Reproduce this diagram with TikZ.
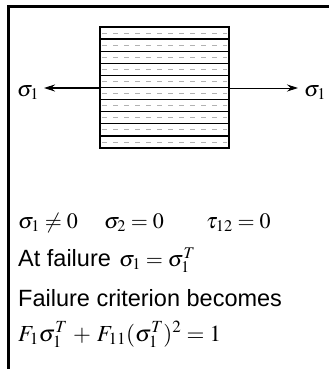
\documentclass[tikz,border=0pt]{standalone}
\usepackage{mathptmx}
\usepackage[no-math]{fontspec}
\usetikzlibrary{arrows.meta}
\newfontfamily\arialf{Liberation Sans}
\begin{document}
\begin{tikzpicture}[x=1pt,y=-1pt,
  txt/.style={anchor=base west,inner sep=0pt,font=\fontsize{22}{26}\selectfont},
  bigtxt/.style={txt,font=\fontsize{23}{27}\selectfont},
  arialtxt/.style={txt,font=\fontsize{23.5}{27}\arialf},
  frameline/.style={line width=2.2pt},
  ply/.style={line width=1.3pt},
  fiber/.style={line width=0.8pt,gray!60,dash pattern=on 5pt off 6pt},
  force/.style={line width=1.2pt,-{Stealth[length=11pt,width=7pt]}}]
\useasboundingbox (0,0) rectangle (329,369);
% frame
\draw[frameline] (8.5,369) -- (8.5,6.5) -- (329,6.5);
% laminate
\foreach \k in {0,...,9} \draw[fiber] (102,{27+(\k+0.5)*12.1}) -- (227,{27+(\k+0.5)*12.1});
\foreach \k in {1,...,9} \draw[ply] (100,{27+\k*12.1}) -- (229,{27+\k*12.1});
\node[draw,line width=2pt,minimum width=129pt,minimum height=121pt,inner sep=0pt] (lam) at (164.5,87.5) {};
% forces
\coordinate (lt) at (44,88);
\coordinate (rt) at (298,88);
\draw[force] (lam.west |- lt) -- (lt);
\draw[force,line width=0.9pt] (lam.east |- rt) -- (rt);
\node[txt] (sl) at (17,96) {$\sigma_1$};
\node[txt] (sr) at (304,96) {$\sigma_1$};
% text
\node[txt] (l1a) at (18,228) {$\sigma_1\neq 0$};
\node[txt] (l1b) at (104,228) {$\sigma_2=0$};
\node[txt] (l1c) at (206,228) {$\tau_{12}=0$};
\node[arialtxt] (l2a) at (18,266) {At failure};
\node[txt] (l2b) at (119,266) {$\sigma_1=\sigma_1^T$};
\node[arialtxt] (l3) at (18,306) {Failure criterion becomes};
\node[bigtxt] (l4) at (18,341) {$F_1\sigma_1^T\,+\,F_{11}(\sigma_1^T)^2=1$};
\end{tikzpicture}
\end{document}
